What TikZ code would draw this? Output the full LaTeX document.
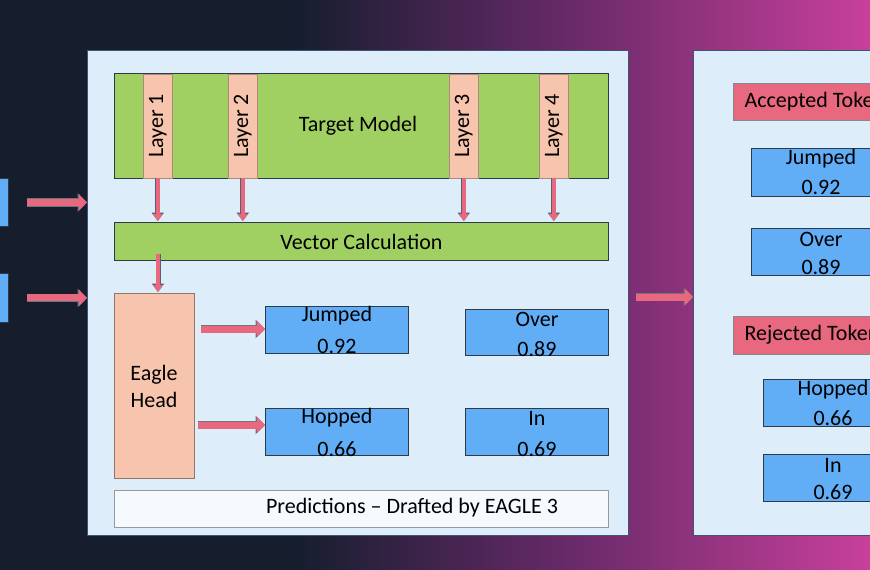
\documentclass[tikz,border=0pt]{standalone}
\usepackage{fontspec}
\setmainfont{Carlito}
\usetikzlibrary{arrows.meta}
\definecolor{bgA}{HTML}{161E2E}
\definecolor{bgB}{HTML}{6A2A6A}
\definecolor{bgC}{HTML}{C8409A}
\definecolor{bgD}{HTML}{D44A70}
\definecolor{panel}{HTML}{DDEDFA}
\definecolor{panelb}{HTML}{3E5470}
\definecolor{grn}{HTML}{A0CF62}
\definecolor{peach}{HTML}{F7C4AE}
\definecolor{blu}{HTML}{62AEF6}
\definecolor{pnk}{HTML}{E8687F}
\definecolor{edg}{HTML}{2E3A4A}
\pgfdeclarehorizontalshading{bgsh}{100bp}{color(0bp)=(bgA); color(42bp)=(bgA); color(58bp)=(bgB); color(75bp)=(bgC); color(100bp)=(bgD)}
\begin{document}
\begin{tikzpicture}[x=1pt,y=-1pt,
  box/.style={draw=edg,line width=0.9pt,inner sep=0pt,anchor=north west},
  panelbox/.style={box,fill=panel,draw=panelb,line width=1pt},
  green/.style={box,fill=grn},
  layer/.style={box,fill=peach,draw=peach!70!black,line width=0.6pt},
  tok/.style={box,fill=blu,draw=edg,align=center},
  red/.style={box,fill=pnk,draw=edg!60,line width=0.6pt},
  thinarr/.style={draw=pnk,line width=3.4pt,-{Triangle[length=7pt,width=10pt]},shorten >=1pt,
     preaction={draw=edg!80,line width=5pt,-{Triangle[length=8.5pt,width=12pt]}}},
  bigarr/.style={draw=pnk,line width=7pt,-{Triangle[length=8pt,width=16pt]},
     preaction={draw=edg!70,line width=8.6pt,-{Triangle[length=9.5pt,width=18pt]}}},
  lab/.style={font=\fontsize{22}{26}\selectfont}]
\useasboundingbox (0,0) rectangle (870,570);
\clip (0,0) rectangle (870,570);
\shade[shading=bgsh] (0,0) rectangle (870,570);

% left partial inputs
\node[tok,minimum width=20pt,minimum height=48pt] (in1) at (-12,178) {};
\node[tok,minimum width=20pt,minimum height=49pt] (in2) at (-12,273) {};

% left panel
\node[panelbox,minimum width=541pt,minimum height=485pt] (left) at (87,50) {};
\node[green,minimum width=494pt,minimum height=105pt] (tm) at (114,73) {};
\node[lab] (tmt) at (358,126) {Target Model};
\foreach \n/\x in {1/143,2/228,3/449,4/539}{
  \node[layer,minimum width=29pt,minimum height=104pt] (L\n) at (\x,73.5) {};
  \node[lab,rotate=90] at (L\n.center) {Layer \n};
}
\node[green,minimum width=494pt,minimum height=38pt] (vc) at (114,222) {};
\node[lab] at (vc.center) {Vector Calculation};
\foreach \n in {1,2,3,4}{ \draw[thinarr] (L\n.south) -- (L\n.south|-vc.north); }
\node[box,fill=peach,draw=peach!60!black,line width=0.6pt,minimum width=80pt,minimum height=185pt] (eh) at (114,293) {};
\node[lab,align=center] at (154,386) {Eagle\\[1pt]Head};
\draw[thinarr] (158,254) -- (eh.north-|158,0);

\node[tok,minimum width=143pt,minimum height=47pt] (j) at (265,306) {};
\node[tok,minimum width=143pt,minimum height=46pt] (o) at (465,309) {};
\node[tok,minimum width=143pt,minimum height=47pt] (h) at (265,408) {};
\node[tok,minimum width=143pt,minimum height=47pt] (i) at (465,408) {};
\foreach \b/\t/\v in {j/Jumped/0.92,o/Over/0.89,h/Hopped/0.66,i/In/0.69}{
  \node[lab] at ([yshift=-10pt]\b.north) {\t};
  \node[lab] at ([yshift=7pt]\b.south) {\v};
}
\draw[bigarr] (201,329) coordinate (ea) -- (j.west|-ea);
\draw[bigarr] (198,425) coordinate (eb) -- (h.west|-eb);

\node[box,fill=white!70!panel,draw=gray!80,line width=0.7pt,minimum width=494pt,minimum height=37pt] (pred) at (114,490) {};
\node[lab] at (412,508) {Predictions -- Drafted by EAGLE 3};

\draw[bigarr] (in1.east) ++(18,0) coordinate (a1) -- (left.west|-a1);
\draw[bigarr] (in2.east) ++(18,0) coordinate (a2) -- (left.west|-a2);

% right panel
\node[panelbox,minimum width=200pt,minimum height=485pt] (right) at (693,50) {};
\draw[bigarr] (636,297) coordinate (a3) -- (right.west|-a3);
\node[red,minimum width=160pt,minimum height=37pt] (acc) at (733,83) {};
\node[lab,anchor=west] at (741,101.5) {Accepted Tokens};
\node[tok,minimum width=140pt,minimum height=48pt] (rj) at (751,148) {};
\node[tok,minimum width=140pt,minimum height=47pt] (ro) at (751,228) {};
\node[red,minimum width=160pt,minimum height=38pt] (rej) at (733,316) {};
\node[lab,anchor=west] at (741,335) {Rejected Tokens};
\node[tok,minimum width=130pt,minimum height=47pt] (rh) at (763,379) {};
\node[tok,minimum width=130pt,minimum height=47pt] (ri) at (763,454) {};
\node[lab] at (821,159) {Jumped};
\node[lab] at (821,187) {0.92};
\node[lab] at (821,239) {Over};
\node[lab] at (821,267) {0.89};
\node[lab] at (833,390) {Hopped};
\node[lab] at (833,418) {0.66};
\node[lab] at (833,465) {In};
\node[lab] at (833,492) {0.69};
\end{tikzpicture}
\end{document}
